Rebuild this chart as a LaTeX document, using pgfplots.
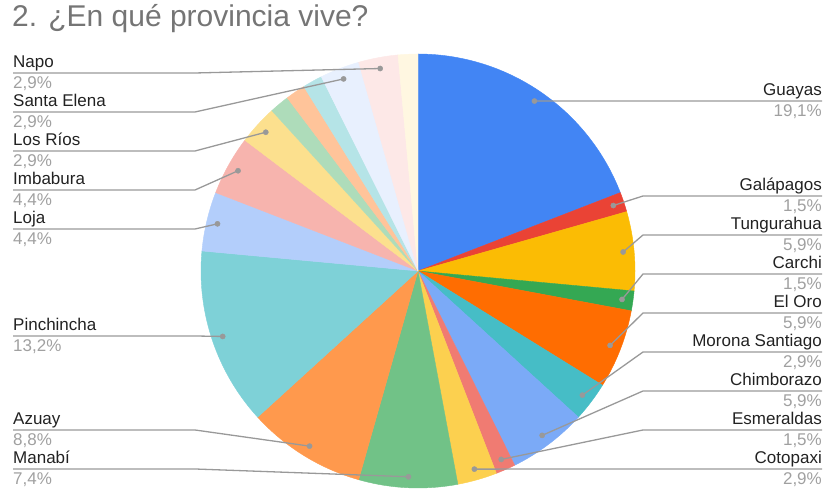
\documentclass[border=0pt]{standalone}
\usepackage{fontspec}
\setmainfont{Liberation Sans}
\usepackage{pgfplots}
\usepackage{pgfplotstable}
\pgfplotsset{compat=1.18}
\definecolor{titlegray}{HTML}{757575}
\definecolor{namegray}{HTML}{222222}
\definecolor{pctgray}{HTML}{A0A0A0}
\definecolor{linegray}{HTML}{999999}
\definecolor{c1}{HTML}{4285F4}
\definecolor{c2}{HTML}{EA4335}
\definecolor{c3}{HTML}{FBBC04}
\definecolor{c4}{HTML}{34A853}
\definecolor{c5}{HTML}{FF6D01}
\definecolor{c6}{HTML}{46BDC6}
\definecolor{c7}{HTML}{7BAAF7}
\definecolor{c8}{HTML}{F07B72}
\definecolor{c9}{HTML}{FCD04F}
\definecolor{c10}{HTML}{71C287}
\definecolor{c11}{HTML}{FF994D}
\definecolor{c12}{HTML}{7ED1D7}
\definecolor{c13}{HTML}{B3CEFB}
\definecolor{c14}{HTML}{F7B4AE}
\definecolor{c15}{HTML}{FCE08E}
\definecolor{c16}{HTML}{AEDCBA}
\definecolor{c17}{HTML}{FFC49A}
\definecolor{c18}{HTML}{B5E4E7}
\definecolor{c19}{HTML}{E8F0FE}
\definecolor{c20}{HTML}{FDE8E7}
\definecolor{c21}{HTML}{FFF7E1}
\tikzset{
  namelbl/.style={font=\fontsize{17bp}{19bp}\selectfont, text=namegray, inner sep=0pt},
  pctlbl/.style={font=\fontsize{17bp}{19bp}\selectfont, text=pctgray, inner sep=0pt},
}
\pgfplotstableread{
name count col side liney
Guayas 13 c1 R 101
Galápagos 1 c2 R 196
Tungurahua 4 c3 R 235
Carchi 1 c4 R 274
{El Oro} 4 c5 R 313
{Morona Santiago} 2 c6 R 352
Chimborazo 4 c7 R 391
Esmeraldas 1 c8 R 430
Cotopaxi 2 c9 R 469
Manabí 5 c10 L 469
Azuay 6 c11 L 430
Pinchincha 9 c12 L 336
Loja 3 c13 L 229
Imbabura 3 c14 L 190
{Los Ríos} 2 c15 L 151
x1 1 c16 N 0
x2 1 c17 N 0
x3 1 c18 N 0
{Santa Elena} 2 c19 L 112
Napo 2 c20 L 73
x4 1 c21 N 0
}\piedata
\def\sR{R}
\def\sL{L}
\begin{document}
\begin{tikzpicture}
\begin{axis}[width=826bp, height=490bp, scale only axis,
  xmin=0, xmax=826, ymin=0, ymax=490, hide axis, clip=false]
\pgfplotstablegetrowsof{\piedata}
\pgfmathtruncatemacro\N{\pgfplotsretval-1}
\def\total{0}
\pgfplotsforeachungrouped \i in {0,...,\N}{%
  \pgfplotstablegetelem{\i}{count}\of\piedata
  \pgfmathsetmacro\total{\total+\pgfplotsretval}%
}
\pgfmathsetmacro\unit{360/\total}
\def\cum{0}
\pgfplotsforeachungrouped \i in {0,...,\N}{%
  \pgfplotstablegetelem{\i}{count}\of\piedata \edef\cnt{\pgfplotsretval}%
  \pgfplotstablegetelem{\i}{col}\of\piedata \edef\col{\pgfplotsretval}%
  \pgfplotstablegetelem{\i}{side}\of\piedata \edef\side{\pgfplotsretval}%
  \pgfplotstablegetelem{\i}{liney}\of\piedata \edef\ly{\pgfplotsretval}%
  \pgfplotstablegetelem{\i}{name}\of\piedata \edef\nm{\pgfplotsretval}%
  \pgfmathsetmacro\aS{90-\unit*\cum}%
  \pgfmathsetmacro\aE{90-\unit*(\cum+\cnt)}%
  \pgfmathsetmacro\aM{(\aS+\aE)/2}%
  \edef\temp{\noexpand\addplot[fill=\col, draw=\col, line width=0.4bp, line join=round, domain=\aE:\aS, samples=60] ({418+217*cos(x)},{219+217*sin(x)}) -- (axis cs:418,219) -- cycle;}%
  \temp
  \pgfmathsetmacro\cum{\cum+\cnt}%
}
\def\cum{0}
\pgfplotsforeachungrouped \i in {0,...,\N}{%
  \pgfplotstablegetelem{\i}{count}\of\piedata \edef\cnt{\pgfplotsretval}%
  \pgfplotstablegetelem{\i}{side}\of\piedata \edef\side{\pgfplotsretval}%
  \pgfplotstablegetelem{\i}{liney}\of\piedata \edef\ly{\pgfplotsretval}%
  \pgfplotstablegetelem{\i}{name}\of\piedata \edef\nm{\pgfplotsretval}%
  \pgfmathsetmacro\aS{90-\unit*\cum}%
  \pgfmathsetmacro\aE{90-\unit*(\cum+\cnt)}%
  \pgfmathsetmacro\aM{(\aS+\aE)/2}%
  \pgfmathsetmacro\dx{418+206*cos(\aM)}%
  \pgfmathsetmacro\dy{219+206*sin(\aM)}%
  \pgfmathsetmacro\lyA{490-\ly}%
  \pgfmathsetmacro\nyA{495-\ly}%
  \pgfmathsetmacro\pyA{474-\ly}%
  \pgfmathsetmacro\pct{100/\total*\cnt}%
  \pgfmathprintnumberto[fixed,precision=1,use comma,fixed zerofill,assume math mode=true]{\pct}{\pctstr}%
  \ifx\side\sR
    \edef\temp{%
      \noexpand\addplot[linegray, line width=1.3bp] coordinates {(\dx,\dy) (643,\lyA) (822,\lyA)};
      \noexpand\addplot[only marks, mark=*, mark size=2.6bp, linegray] coordinates {(\dx,\dy)};
      \noexpand\node[namelbl, anchor=base east] at (axis cs:822,\nyA) {\nm};
      \noexpand\node[pctlbl, anchor=base east] at (axis cs:822,\pyA) {\pctstr\noexpand\%};
    }%
    \temp
  \fi
  \ifx\side\sL
    \edef\temp{%
      \noexpand\addplot[linegray, line width=1.3bp] coordinates {(\dx,\dy) (195,\lyA) (13,\lyA)};
      \noexpand\addplot[only marks, mark=*, mark size=2.6bp, linegray] coordinates {(\dx,\dy)};
      \noexpand\node[namelbl, anchor=base west] at (axis cs:13,\nyA) {\nm};
      \noexpand\node[pctlbl, anchor=base west] at (axis cs:13,\pyA) {\pctstr\noexpand\%};
    }%
    \temp
  \fi
  \pgfmathsetmacro\cum{\cum+\cnt}%
}
\node[anchor=base west, inner sep=0pt, text=titlegray, font=\fontsize{30bp}{34bp}\selectfont] at (axis cs:12,463) {2. ¿En qué provincia vive?};
\coordinate (bbsw) at (axis cs:0,0);
\coordinate (bbne) at (axis cs:826,490);
\end{axis}
\pgfresetboundingbox
\path[use as bounding box] (bbsw) rectangle (bbne);
\end{tikzpicture}
\end{document}
